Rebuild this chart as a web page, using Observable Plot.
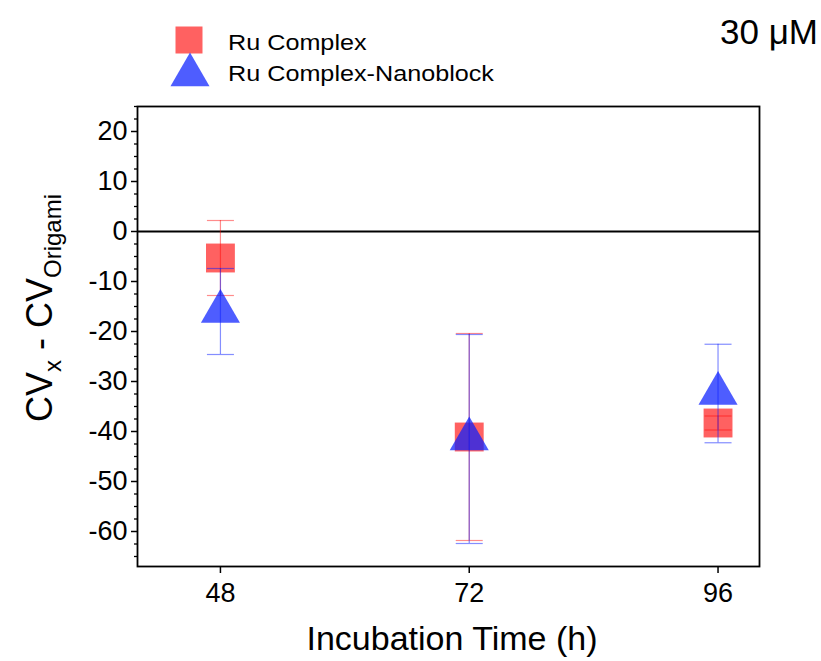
<!DOCTYPE html>
<html><head><meta charset="utf-8">
<script src="https://cdn.jsdelivr.net/npm/d3@7"></script>
<script src="https://cdn.jsdelivr.net/npm/@observablehq/plot@0.6"></script>
<style>
body{margin:0;background:#fff;}
#wrap{width:821px;height:661px;}
</style></head><body><div id="wrap"></div>
<script>
// Data
const times = [48, 72, 96];
const ruMean = [-5.3, -41.1, -38.3];
const ruErr = [7.5, 20.7, 1.4];
const nbMean = [-16.0, -41.5, -32.4];
const nbErr = [8.6, 20.9, 9.85];
const xTicks = [48, 72, 96];
const yTicks = [20, 10, 0, -10, -20, -30, -40, -50, -60];
const yMinorTicks = d3.range(-65, 25.01, 2.5).filter(v => v % 10 !== 0);
const seriesNames = ["Ru Complex", "Ru Complex-Nanoblock"];

const ru = times.map((t, i) => ({t, m: ruMean[i], lo: ruMean[i] - ruErr[i], hi: ruMean[i] + ruErr[i]}));
const nb = times.map((t, i) => ({t, m: nbMean[i], lo: nbMean[i] - nbErr[i], hi: nbMean[i] + nbErr[i]}));

const cap = {draw(ctx) { ctx.moveTo(-13.5, 0); ctx.lineTo(13.5, 0); }};
const RED = "#ff0000", BLUE = "#0a1eff";
const FF = "'Liberation Sans', Arial, sans-serif";

const plot = Plot.plot({
  width: 821, height: 661,
  marginLeft: 137, marginRight: 62, marginTop: 106, marginBottom: 95,
  x: {domain: [40, 100]},
  y: {domain: [-67, 25]},
  style: {fontFamily: FF, fontSize: "27px", color: "black", background: "white"},
  marks: [
    Plot.ruleY([0], {stroke: "black", strokeWidth: 2}),
    Plot.axisY(yMinorTicks, {tickSize: 3, tickFormat: () => "", label: null, strokeWidth: 1.3}),
    Plot.axisY(yTicks, {tickSize: 6, tickPadding: 4, label: null, strokeWidth: 1.5, fontSize: 27, tickFormat: d => String(d)}),
    Plot.axisX(xTicks, {tickSize: 7, tickPadding: 9, label: null, strokeWidth: 1.5, fontSize: 27, tickFormat: d => String(d)}),
    Plot.dot(ru, {x: "t", y: "m", symbol: "square", r: 16.3, fill: RED, fillOpacity: 0.62}),
    Plot.ruleX(ru, {x: "t", y1: "lo", y2: "hi", stroke: RED, strokeOpacity: 0.45, strokeWidth: 1.2}),
    Plot.dot(ru, {x: "t", y: "lo", symbol: cap, fill: "none", stroke: RED, strokeOpacity: 0.45, strokeWidth: 1.2}),
    Plot.dot(ru, {x: "t", y: "hi", symbol: cap, fill: "none", stroke: RED, strokeOpacity: 0.45, strokeWidth: 1.2}),
    Plot.dot(nb, {x: "t", y: "m", symbol: "triangle", r: 14.5, fill: BLUE, fillOpacity: 0.72}),
    Plot.ruleX(nb, {x: "t", y1: "lo", y2: "hi", stroke: BLUE, strokeOpacity: 0.5, strokeWidth: 1.2}),
    Plot.dot(nb, {x: "t", y: "lo", symbol: cap, fill: "none", stroke: BLUE, strokeOpacity: 0.5, strokeWidth: 1.2}),
    Plot.dot(nb, {x: "t", y: "hi", symbol: cap, fill: "none", stroke: BLUE, strokeOpacity: 0.5, strokeWidth: 1.2}),
    Plot.frame({stroke: "black", strokeWidth: 1.8})
  ]
});
document.getElementById("wrap").appendChild(plot);

const svg = d3.select(plot);
// y-axis label with subscripts
const yl = svg.append("text").attr("transform", "translate(52,308) rotate(-90)")
  .attr("text-anchor", "middle").attr("font-family", FF).attr("font-size", 36).attr("fill", "black");
yl.append("tspan").text("CV");
yl.append("tspan").attr("font-size", 24).attr("dy", 9).text("x");
yl.append("tspan").attr("dy", -9).text(" - CV");
yl.append("tspan").attr("font-size", 24).attr("dy", 9).text("Origami");
// x-axis label
svg.append("text").attr("x", 452).attr("y", 650).attr("text-anchor", "middle")
  .attr("font-family", FF).attr("font-size", 34).attr("fill", "black").text("Incubation Time (h)");
// concentration
svg.append("text").attr("x", 818).attr("y", 44).attr("text-anchor", "end")
  .attr("font-family", FF).attr("font-size", 35).attr("fill", "black").text("30 μM");
// legend
svg.append("path").attr("transform", "translate(189,40)")
  .attr("d", d3.symbol(d3.symbolSquare, 27 * 27)()).attr("fill", RED).attr("fill-opacity", 0.62);
svg.append("path").attr("transform", "translate(190,75)")
  .attr("d", d3.symbol(d3.symbolTriangle, Math.PI * 14.5 * 14.5)()).attr("fill", BLUE).attr("fill-opacity", 0.72);
seriesNames.forEach((n, i) => {
  svg.append("text").attr("transform", `translate(228,${50 + i * 31}) scale(1.12,1)`)
    .attr("text-anchor", "start")
    .attr("font-family", FF).attr("font-size", 22.5).attr("fill", "black").text(n);
});
</script></body></html>
